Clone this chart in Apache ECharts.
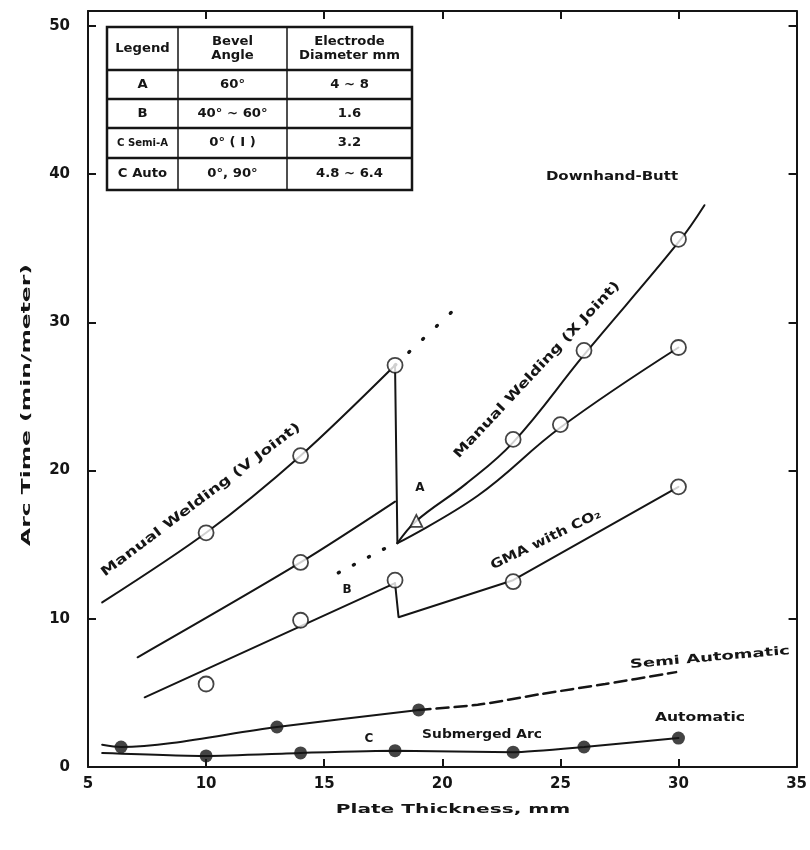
<!DOCTYPE html>
<html>
<head>
<meta charset="utf-8">
<script src="https://cdn.jsdelivr.net/npm/echarts@6/dist/echarts.min.js"></script>
<style>
    html, body { margin: 0; background: #fff; }
    #chart { width: 810px; height: 850px; }
</style>
</head>
<body>
<div id="chart"></div>
<script>
// fitted curves (plate thickness mm, arc time min/m)
var vJointLine = [[5.6, 11.1], [10, 15.8], [14, 21.0], [18, 27.1]];
var vJointExt = [[18, 27.1], [20.6, 31.0]];
var stepDown = [[18, 27.1], [18.1, 15.1]];
var xJointUpper = [[18.1, 15.1], [18.9, 16.6], [21, 19.1], [23, 21.9], [26, 27.8], [30, 35.4], [31.1, 37.9]];
var xJointLower = [[18.1, 15.1], [21.5, 18.3], [25, 22.9], [30, 28.3]];
var aLine = [[7.1, 7.4], [14, 13.8], [18, 17.9]];
var bDots = [[15.6, 13.1], [18, 15.1]];
var gmaLeft = [[7.4, 4.7], [18, 12.4]];
var gmaRight = [[18, 12.4], [18.15, 10.1], [23, 12.6], [30, 18.9]];
var semiSolid = [[5.6, 1.5], [6.4, 1.35], [13, 2.7], [19, 3.85]];
var semiDashed = [[19, 3.85], [21.5, 4.2], [24.1, 4.9], [26.9, 5.6], [29.9, 6.4]];
var autoLine = [[5.6, 0.95], [10, 0.75], [14, 0.95], [18, 1.1], [23, 1.0], [26, 1.35], [30, 1.95]];

// measured points
var openPoints = [[10, 15.8], [14, 21.0], [18, 27.1], [14, 13.8], [23, 22.1], [26, 28.1], [30, 35.6],
    [25, 23.1], [30, 28.3], [10, 5.6], [14, 9.9], [18, 12.6], [23, 12.5], [30, 18.9]];
var trianglePoints = [[18.9, 16.6]];
var filledPoints = [[6.4, 1.35], [13, 2.7], [19, 3.85], [10, 0.75], [14, 0.95], [18, 1.1], [23, 1.0], [26, 1.35], [30, 1.95]];

// legend table
var tableRows = [
    ["Legend", "Bevel\nAngle", "Electrode\nDiameter mm"],
    ["A", "60°", "4 ~ 8"],
    ["B", "40° ~ 60°", "1.6"],
    ["C Semi-A", "0° ( I )", "3.2"],
    ["C Auto", "0°, 90°", "4.8 ~ 6.4"]
];

var ink = '#151515';
var fontFamily = '"DejaVu Sans", sans-serif';

function curve(data, opts) {
    opts = opts || {};
    return {
        type: 'line',
        data: data,
        symbol: 'none',
        smooth: opts.smooth || false,
        silent: true,
        z: 2,
        lineStyle: {color: ink, width: opts.width || 2, type: opts.type || 'solid', cap: 'round'}
    };
}

// table graphics
var tableX = [107, 178, 287, 412];
var tableY = [27, 70, 99, 128, 158, 190];
var tableGraphics = [{
    type: 'rect',
    shape: {x: tableX[0], y: tableY[0], width: tableX[3] - tableX[0], height: tableY[5] - tableY[0]},
    style: {fill: '#fff', stroke: ink, lineWidth: 2.5}
}];
tableY.slice(1, 5).forEach(function (y) {
    tableGraphics.push({type: 'line', shape: {x1: tableX[0], y1: y, x2: tableX[3], y2: y}, style: {stroke: ink, lineWidth: 2.5}});
});
tableX.slice(1, 3).forEach(function (x) {
    tableGraphics.push({type: 'line', shape: {x1: x, y1: tableY[0], x2: x, y2: tableY[5]}, style: {stroke: ink, lineWidth: 1.5}});
});
tableRows.forEach(function (row, r) {
    row.forEach(function (txt, c) {
        var tight = c === 0 && txt.length > 6;
        tableGraphics.push({
            type: 'text',
            x: (tableX[c] + tableX[c + 1]) / 2,
            y: (tableY[r] + tableY[r + 1]) / 2,
            scaleX: tight ? 0.92 : 1.1,
            style: {text: txt, fill: ink, font: 'bold ' + (tight ? 11 : 12) + 'px ' + fontFamily, align: 'center', verticalAlign: 'middle', lineHeight: 14}
        });
    });
});

function note(text, x, y, deg, size, stretch) {
    return {
        type: 'text', x: x, y: y, rotation: (deg || 0) * Math.PI / 180, scaleX: stretch || 1, z: 10,
        style: {text: text, fill: ink, font: 'bold ' + (size || 12) + 'px ' + fontFamily, align: 'center', verticalAlign: 'middle'}
    };
}

var notes = [
    note('Downhand-Butt', 612, 177, 0, 12, 1.25),
    note('Manual Welding (V Joint)', 201, 500, 37, 13, 1.35),
    note('Manual Welding (X Joint)', 537, 370, 47, 13, 1.3),
    note('GMA with CO\u2082', 546, 540, 26, 13, 1.2),
    note('A', 420, 488, 0, 12),
    note('B', 347, 590, 0, 12),
    note('Semi Automatic', 710, 658, 5, 12, 1.5),
    note('Automatic', 700, 718, 0, 12, 1.3),
    note('C', 369, 739, 0, 12),
    note('Submerged Arc', 482, 735, 0, 12, 1.15),
    // axis titles
    note('Arc Time (min/meter)', 27, 405, 90, 12, 1.95),
    note('Plate Thickness, mm', 453, 810, 0, 13, 1.55)
];

var axisCommon = {
    type: 'value',
    axisLine: {show: true, onZero: false, lineStyle: {color: ink, width: 2}},
    axisTick: {show: true, inside: true, length: 8, lineStyle: {color: ink, width: 2}},
    splitLine: {show: false}
};

var option = {
    animation: false,
    backgroundColor: '#fff',
    grid: {left: 88, right: 9, top: 11, bottom: 83},
    xAxis: [
        Object.assign({}, axisCommon, {
            min: 5, max: 35, interval: 5,
            axisLabel: {color: ink, fontSize: 15, fontWeight: 'bold', fontFamily: fontFamily, margin: 10}
        }),
        Object.assign({}, axisCommon, {
            position: 'top', min: 5, max: 35, interval: 5,
            axisLabel: {show: false}
        })
    ],
    yAxis: [
        Object.assign({}, axisCommon, {
            min: 0, max: 51, interval: 10,
            axisLabel: {color: ink, fontSize: 15, fontWeight: 'bold', fontFamily: fontFamily, margin: 18, showMaxLabel: false}
        }),
        Object.assign({}, axisCommon, {
            position: 'right', min: 0, max: 51, interval: 10,
            axisLabel: {show: false}
        })
    ],
    graphic: tableGraphics.concat(notes),
    series: [
        curve(vJointLine, {smooth: 0.3}),
        curve(vJointExt, {type: [1, 18], width: 3.5}),
        curve(stepDown),
        curve(xJointUpper, {smooth: 0.4}),
        curve(xJointLower, {smooth: 0.4}),
        curve(aLine, {smooth: 0.3}),
        curve(bDots, {type: [1, 16], width: 3.5}),
        curve(gmaLeft),
        curve(gmaRight),
        curve(semiSolid, {smooth: 0.3}),
        curve(semiDashed, {smooth: 0.3, type: [12, 6], width: 2.5}),
        curve(autoLine, {smooth: 0.2}),
        {
            type: 'scatter', data: openPoints, symbol: 'circle', symbolSize: 15, z: 5, silent: true,
            itemStyle: {color: '#fff', borderColor: ink, borderWidth: 1.8}
        },
        {
            type: 'scatter', data: trianglePoints, symbol: 'triangle', symbolSize: 12, z: 5, silent: true,
            itemStyle: {color: '#fff', borderColor: ink, borderWidth: 1.8}
        },
        {
            type: 'scatter', data: filledPoints, symbol: 'circle', symbolSize: 13, z: 5, silent: true,
            itemStyle: {color: ink}
        }
    ]
};

var myChart = echarts.init(document.getElementById('chart'));
myChart.setOption(option);
</script>
</body>
</html>
